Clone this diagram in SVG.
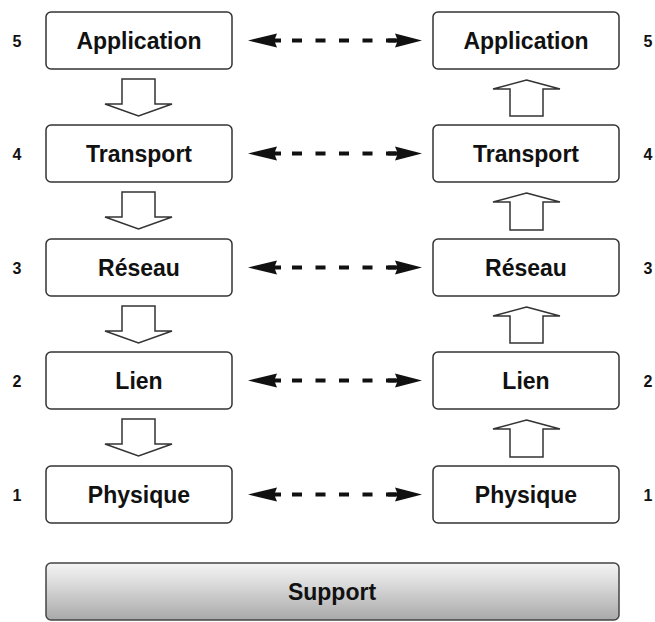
<svg xmlns="http://www.w3.org/2000/svg" width="655" height="622" viewBox="0 0 655 622">
<style>
.box{fill:#fff;stroke:#333;stroke-width:1.5}
.lbl{font-family:"Liberation Sans",Arial,sans-serif;font-weight:bold;font-size:23px;fill:#111;text-anchor:middle}
.num{font-family:"Liberation Sans",Arial,sans-serif;font-weight:bold;font-size:16px;fill:#111;text-anchor:middle}
.blk{fill:#fff;stroke:#333;stroke-width:1.5;stroke-linejoin:miter}
.dash{stroke:#111;stroke-width:4;stroke-dasharray:10 13.5;fill:none}
.head{fill:#111}
</style>
<defs>
<linearGradient id="sg" x1="0" y1="0" x2="0" y2="1">
<stop offset="0" stop-color="#f4f4f4"/>
<stop offset="0.35" stop-color="#dcdcdc"/>
<stop offset="1" stop-color="#a9a9a9"/>
</linearGradient>
</defs>
<rect width="655" height="622" fill="#fff"/>

<g id="left-application"><rect class="box" x="46" y="12" width="186" height="57" rx="5"/><text class="lbl" x="139" y="48.5">Application</text><text class="num" x="17" y="47">5</text></g>
<g id="left-transport"><rect class="box" x="46" y="125" width="186" height="57" rx="5"/><text class="lbl" x="139" y="161.5">Transport</text><text class="num" x="17" y="160">4</text></g>
<g id="left-reseau"><rect class="box" x="46" y="239" width="186" height="57" rx="5"/><text class="lbl" x="139" y="275.5">Réseau</text><text class="num" x="17" y="274">3</text></g>
<g id="left-lien"><rect class="box" x="46" y="352" width="186" height="57" rx="5"/><text class="lbl" x="139" y="388.5">Lien</text><text class="num" x="17" y="387">2</text></g>
<g id="left-physique"><rect class="box" x="46" y="466" width="186" height="57" rx="5"/><text class="lbl" x="139" y="502.5">Physique</text><text class="num" x="17" y="501">1</text></g>

<g id="right-application"><rect class="box" x="433" y="12" width="186" height="57" rx="5"/><text class="lbl" x="526" y="48.5">Application</text><text class="num" x="648" y="47">5</text></g>
<g id="right-transport"><rect class="box" x="433" y="125" width="186" height="57" rx="5"/><text class="lbl" x="526" y="161.5">Transport</text><text class="num" x="648" y="160">4</text></g>
<g id="right-reseau"><rect class="box" x="433" y="239" width="186" height="57" rx="5"/><text class="lbl" x="526" y="275.5">Réseau</text><text class="num" x="648" y="274">3</text></g>
<g id="right-lien"><rect class="box" x="433" y="352" width="186" height="57" rx="5"/><text class="lbl" x="526" y="388.5">Lien</text><text class="num" x="648" y="387">2</text></g>
<g id="right-physique"><rect class="box" x="433" y="466" width="186" height="57" rx="5"/><text class="lbl" x="526" y="502.5">Physique</text><text class="num" x="648" y="501">1</text></g>

<g id="support"><rect x="46" y="563" width="573" height="57" rx="5" fill="url(#sg)" stroke="#444" stroke-width="1.5"/><text class="lbl" x="332" y="600">Support</text></g>

<g id="connectors">
<polygon class="blk" points="122,79 155,79 155,104 172,104 138.5,116 105,104 122,104"/>
<polygon class="blk" points="122,192 155,192 155,217 172,217 138.5,229 105,217 122,217"/>
<polygon class="blk" points="122,306 155,306 155,331 172,331 138.5,343 105,331 122,331"/>
<polygon class="blk" points="122,419 155,419 155,444 172,444 138.5,456 105,444 122,444"/>

<polygon class="blk" points="526.5,80 560,89 543,89 543,116 510,116 510,89 493,89"/>
<polygon class="blk" points="526.5,193 560,202 543,202 543,230 510,230 510,202 493,202"/>
<polygon class="blk" points="526.5,307 560,316 543,316 543,343 510,343 510,316 493,316"/>
<polygon class="blk" points="526.5,420 560,429 543,429 543,457 510,457 510,429 493,429"/>

<g id="peer-5"><line class="dash" x1="292" y1="40.5" x2="397" y2="40.5"/><polygon class="head" points="248,40.5 277,33.5 275,38.5 281,38.5 281,42.5 275,42.5 277,47.5"/><polygon class="head" points="422,40.5 395,33.5 397,38.5 388,38.5 388,42.5 397,42.5 395,47.5"/></g>
<g id="peer-4"><line class="dash" x1="292" y1="153.5" x2="397" y2="153.5"/><polygon class="head" points="248,153.5 277,146.5 275,151.5 281,151.5 281,155.5 275,155.5 277,160.5"/><polygon class="head" points="422,153.5 395,146.5 397,151.5 388,151.5 388,155.5 397,155.5 395,160.5"/></g>
<g id="peer-3"><line class="dash" x1="292" y1="267.5" x2="397" y2="267.5"/><polygon class="head" points="248,267.5 277,260.5 275,265.5 281,265.5 281,269.5 275,269.5 277,274.5"/><polygon class="head" points="422,267.5 395,260.5 397,265.5 388,265.5 388,269.5 397,269.5 395,274.5"/></g>
<g id="peer-2"><line class="dash" x1="292" y1="380.5" x2="397" y2="380.5"/><polygon class="head" points="248,380.5 277,373.5 275,378.5 281,378.5 281,382.5 275,382.5 277,387.5"/><polygon class="head" points="422,380.5 395,373.5 397,378.5 388,378.5 388,382.5 397,382.5 395,387.5"/></g>
<g id="peer-1"><line class="dash" x1="292" y1="494.5" x2="397" y2="494.5"/><polygon class="head" points="248,494.5 277,487.5 275,492.5 281,492.5 281,496.5 275,496.5 277,501.5"/><polygon class="head" points="422,494.5 395,487.5 397,492.5 388,492.5 388,496.5 397,496.5 395,501.5"/></g>
</g>
</svg>
